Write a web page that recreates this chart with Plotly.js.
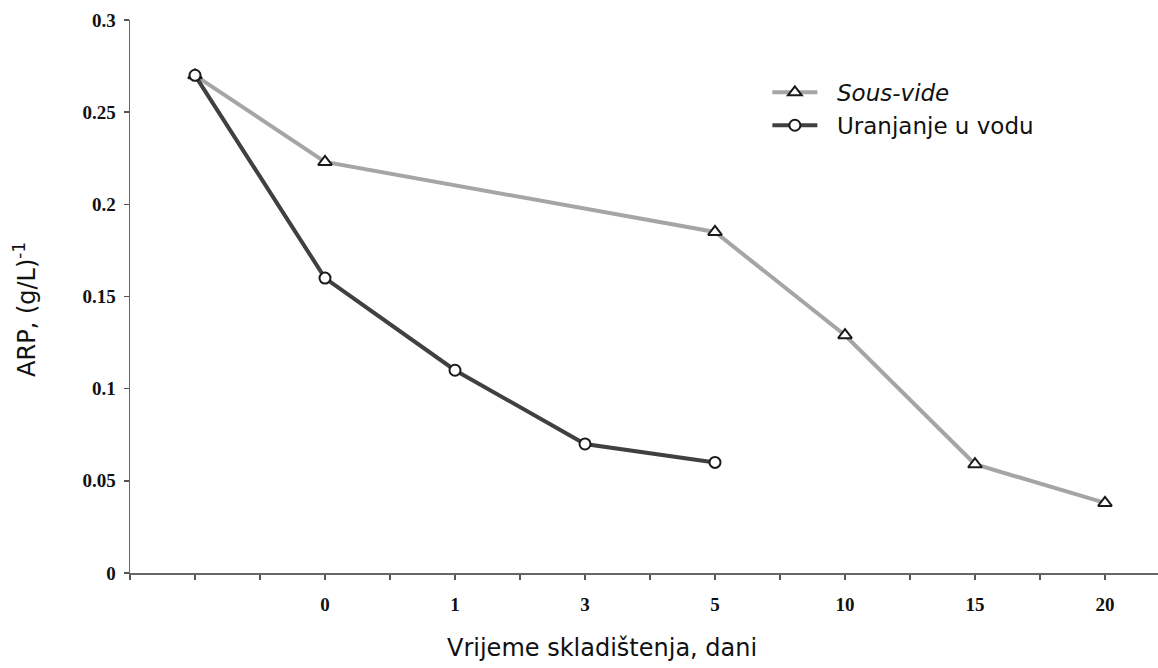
<!DOCTYPE html>
<html>
<head>
<meta charset="utf-8">
<script src="https://cdn.plot.ly/plotly-3.0.1.min.js"></script>
<style>html,body{margin:0;padding:0;background:#fff;}#chart{width:1158px;height:668px;}</style>
</head>
<body>
<div id="chart"></div>
<script>
// Storage-time categories (first one = before storage, unlabeled)
const categories = ['', '0', '1', '3', '5', '10', '15', '20'];
// Sous-vide series
const sousVideDays = ['', '0', '5', '10', '15', '20'];
const sousVideARP = [0.27, 0.223, 0.185, 0.129, 0.059, 0.038];
// Water immersion series
const vodaDays = ['', '0', '1', '3', '5'];
const vodaARP = [0.27, 0.16, 0.11, 0.07, 0.06];
const yTicks = [0, 0.05, 0.1, 0.15, 0.2, 0.25, 0.3];
const yTickText = ['0', '0.05', '0.1', '0.15', '0.2', '0.25', '0.3'];

// each category sits on an odd slot; even slots carry unlabeled minor ticks
const slot = c => 1 + 2 * categories.indexOf(c);
const labelled = categories.filter(c => c !== '');
const tickvals = labelled.map(slot);
const ticktext = labelled;

const pad = '\u00a0\u00a0';
const traces = [
  {
    x: sousVideDays.map(slot), y: sousVideARP, name: pad + '<i>Sous-vide</i>',
    type: 'scatter', mode: 'lines+markers', legendgroup: 'a',
    line: {color: '#a5a5a5', width: 4},
    marker: {symbol: 'triangle-up', size: 12, color: '#ffffff', line: {color: '#1a1a1a', width: 2}}
  },
  {
    x: vodaDays.map(slot), y: vodaARP, name: pad + 'Uranjanje u vodu',
    type: 'scatter', mode: 'lines+markers', legendgroup: 'b',
    line: {color: '#404040', width: 4},
    marker: {symbol: 'circle', size: 11, color: '#ffffff', line: {color: '#1a1a1a', width: 2}}
  }
];

const tickFont = {family: 'Liberation Serif', size: 19, color: '#111111', weight: 'bold'};

const layout = {
  width: 1158, height: 668,
  margin: {l: 130, r: 0, t: 20, b: 95},
  paper_bgcolor: '#ffffff', plot_bgcolor: '#ffffff',
  showlegend: true,
  legend: {
    x: 0.62, y: 0.908, xanchor: 'left', yanchor: 'top',
    font: {family: 'DejaVu Sans', size: 23, color: '#111111'},
    bgcolor: 'rgba(0,0,0,0)', tracegroupgap: 0, itemwidth: 45
  },
  xaxis: {
    range: [0, 1028 / 65], showgrid: false, zeroline: false,
    showline: true, linecolor: '#666666', linewidth: 1.5,
    ticks: 'outside', ticklen: 5, tickwidth: 1.5, tickcolor: '#555555',
    tickmode: 'array', tickvals: tickvals, ticktext: ticktext,
    minor: {tickmode: 'linear', tick0: 0, dtick: 1, ticks: 'outside', ticklen: 5, tickwidth: 1.5, tickcolor: '#555555', showgrid: false},
    tickfont: tickFont, ticklabelstandoff: 9, fixedrange: true
  },
  yaxis: {
    range: [0, 0.3], showgrid: false, zeroline: false,
    showline: true, linecolor: '#666666', linewidth: 1.5,
    ticks: 'outside', ticklen: 5, tickwidth: 1.5, tickcolor: '#555555',
    tickmode: 'array', tickvals: yTicks, ticktext: yTickText,
    tickfont: tickFont, ticklabelstandoff: 4, fixedrange: true
  },
  annotations: [
    {
      text: 'Vrijeme skladištenja, dani', xref: 'paper', yref: 'paper',
      x: 0.459, y: -0.1356, xanchor: 'center', yanchor: 'middle', showarrow: false,
      font: {family: 'DejaVu Sans', size: 24, color: '#111111'}
    },
    {
      text: 'ARP, (g/L)<sup>-1</sup>', xref: 'paper', yref: 'paper',
      x: -0.102, y: 0.476, xanchor: 'center', yanchor: 'middle', showarrow: false,
      textangle: -90,
      font: {family: 'DejaVu Sans', size: 24, color: '#111111'}
    }
  ]
};

Plotly.newPlot('chart', traces, layout, {displayModeBar: false, staticPlot: true});
</script>
</body>
</html>
